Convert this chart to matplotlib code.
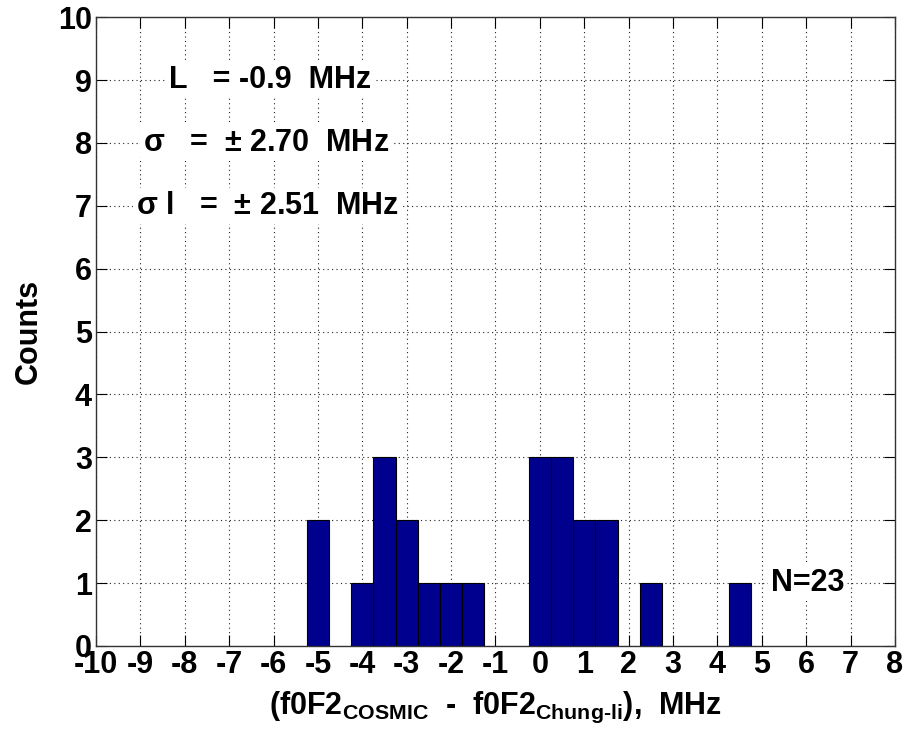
import numpy as np
import matplotlib
matplotlib.use("Agg")
from matplotlib import pyplot as plt

plt.rcParams['font.family'] = ['Liberation Sans', 'DejaVu Sans']
plt.rcParams['font.weight'] = 'bold'
plt.rcParams['axes.unicode_minus'] = False
plt.rcParams['mathtext.fontset'] = 'custom'
plt.rcParams['mathtext.rm'] = 'Liberation Sans:bold'
plt.rcParams['mathtext.bf'] = 'Liberation Sans:bold'
plt.rcParams['mathtext.it'] = 'Liberation Sans:bold'
plt.rcParams['mathtext.sf'] = 'Liberation Sans'

# histogram bins (centres, MHz) and counts
centers = [-5.0, -4.0, -3.5, -3.0, -2.5, -2.0, -1.5, 0.0, 0.5, 1.0, 1.5, 2.5, 4.5]
counts = [2, 1, 3, 2, 1, 1, 1, 3, 3, 2, 2, 1, 1]
binw = 0.5

xticks = list(range(-10, 9))
yticks = list(range(0, 11))

fig = plt.figure(figsize=(9.1, 7.38), dpi=100)
ax = fig.add_axes([0.1055, 0.1247, 0.878, 0.852])

ax.bar(centers, counts, width=binw, align='center', color=(0, 0, 0.5625),
       edgecolor='k', linewidth=0.8, zorder=2)

ax.set_xlim(-10, 8)
ax.set_ylim(0, 10)
ax.set_xticks(xticks)
ax.set_yticks(yticks)
ax.grid(True, linestyle=(0, (1, 3)), color='#222222', linewidth=0.8, zorder=0)
ax.set_axisbelow(True)
ax.tick_params(direction='in', length=8, width=0.8, top=True, right=True,
               labelsize=22, pad=3)
for lab in ax.get_xticklabels() + ax.get_yticklabels():
    lab.set_fontweight('bold')
for s in ax.spines.values():
    s.set_linewidth(1.0)
    s.set_color('#333333')

ax.set_ylabel('Counts', fontsize=22, fontweight='bold', labelpad=10)
ax.set_xlabel(r'(f0F2$_{\mathrm{COSMIC}}$  -  f0F2$_{\text{Chung-li}}$),  MHz',
              fontsize=22, fontweight='bold', labelpad=7)

box = dict(facecolor='white', edgecolor='none', pad=2)
ax.text(-8.35, 9, 'L   = -0.9  MHz', fontsize=22, fontweight='bold',
        va='center', ha='left', bbox=box, zorder=3)
ax.text(-8.95, 8, r'$\mathsf{\sigma}$   =  $\mathsf{\pm}$ 2.70  MHz', fontsize=22,
        fontweight='bold', va='center', ha='left', bbox=box, zorder=3)
ax.text(-9.1, 7, r'$\mathsf{\sigma}$ l   =  $\mathsf{\pm}$ 2.51  MHz', fontsize=22,
        fontweight='bold', va='center', ha='left', bbox=box, zorder=3)
ax.text(5.2, 1, 'N=23', fontsize=22, fontweight='bold', va='center',
        ha='left', bbox=box, zorder=3)

fig.savefig('out.png', dpi=100)
